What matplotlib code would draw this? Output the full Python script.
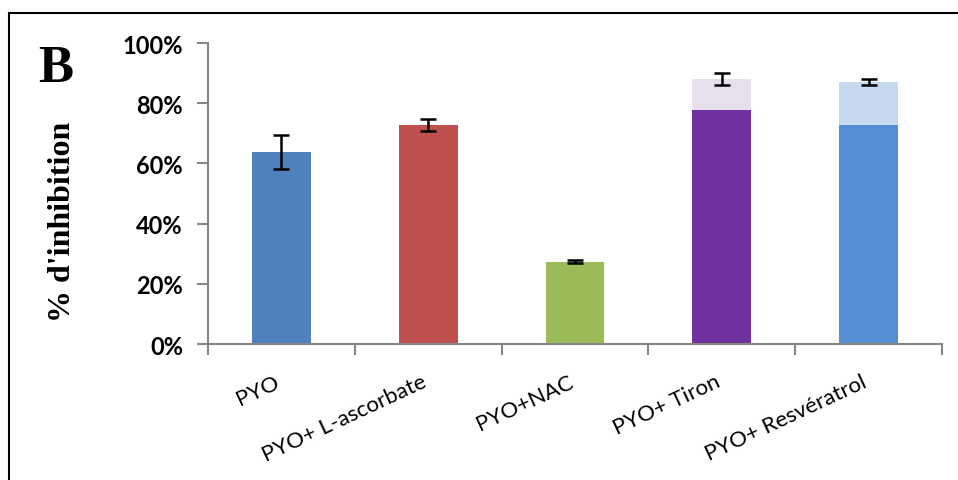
import numpy as np
import matplotlib.pyplot as plt
from matplotlib import patches

# data
categories = ["PYO", "PYO+ L-ascorbate", "PYO+NAC", "PYO+ Tiron", "PYO+ Resvératrol"]
base_vals = [63.8, 72.8, 27.3, 77.7, 72.8]
extra_vals = [0, 0, 0, 10.3, 14.2]
err_vals = [5.5, 2.1, 0.5, 2.1, 1.1]
base_colors = ["#4F81BD", "#C0504D", "#9BBB59", "#7030A0", "#558ED5"]
extra_colors = ["none", "none", "none", "#E6E0EC", "#C6D9F1"]
yticks = [0, 20, 40, 60, 80, 100]

fig = plt.figure(figsize=(9.58, 4.81), dpi=100)
ax = fig.add_axes([0.2171, 0.2827, 0.7662, 0.6258])

x = np.arange(len(categories))
base = np.array(base_vals)
extra = np.array(extra_vals)
ax.bar(x, base, width=0.4, color=base_colors, zorder=2)
ax.bar(x, extra, width=0.4, bottom=base, color=extra_colors, zorder=2)
ax.errorbar(x, base + extra, yerr=err_vals, fmt="none", ecolor="black",
            elinewidth=1.8, capsize=6, capthick=1.8, zorder=3)

ax.set_xlim(-0.5, len(categories) - 0.5)
ax.set_ylim(0, 100)
ax.set_yticks(yticks)
ax.set_yticklabels([f"{v}%" for v in yticks], fontfamily="Lato",
                   fontweight="bold", fontsize=17)

# category boundary ticks, labels placed separately
ax.set_xticks(np.arange(-0.5, len(categories), 1.0))
ax.set_xticklabels([])
for xi, lab in zip(x, categories):
    ax.text(xi - 0.05, -9, lab, rotation=25, ha="right", va="top",
            rotation_mode="anchor", fontfamily="Lato", fontsize=16,
            transform=ax.transData)

for side in ["top", "right"]:
    ax.spines[side].set_visible(False)
for side in ["left", "bottom"]:
    ax.spines[side].set_color("#868686")
    ax.spines[side].set_linewidth(1.5)
ax.tick_params(axis="both", colors="#868686", length=8, width=1.5)
ax.tick_params(axis="y", labelcolor="black", pad=10)

fig.text(0.0655, 0.538, "% d'inhibition", rotation=90, ha="center", va="center",
         fontfamily="Liberation Serif", fontweight="bold", fontsize=23)
fig.text(0.0585, 0.857, "B", ha="center", va="center",
         fontfamily="Liberation Serif", fontweight="bold", fontsize=38)

# outer frame
fig.add_artist(patches.Rectangle((0.0099, -0.1), 1.1, 1.071,
                                 transform=fig.transFigure, fill=False,
                                 edgecolor="black", linewidth=1.5))

fig.savefig("out.png", dpi=100)
